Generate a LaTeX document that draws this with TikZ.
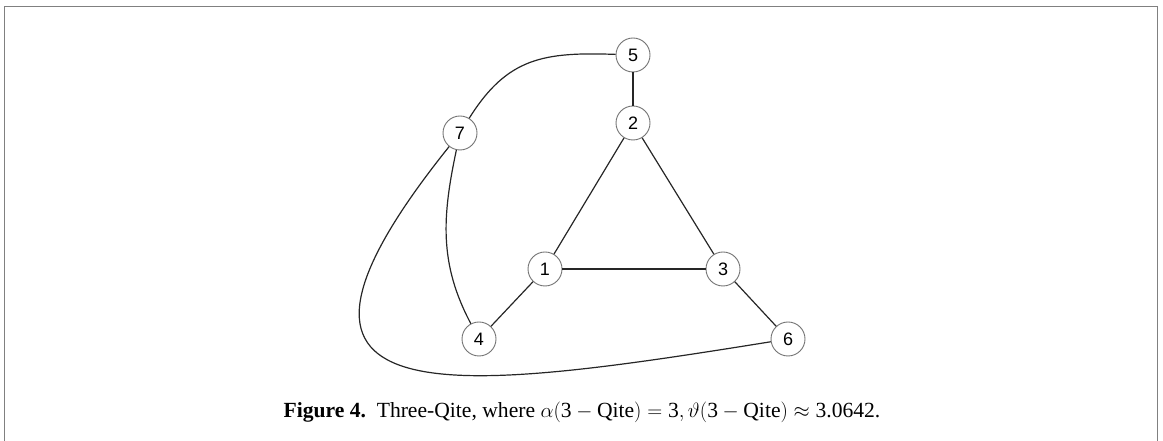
\documentclass[tikz,border=0pt]{standalone}
\usepackage{fontspec}
\setmainfont{Liberation Serif}
\newfontfamily\nodefont{Liberation Sans}
\begin{document}
\begin{tikzpicture}[x=1pt,y=1pt,
  vtx/.style={circle,draw=black!55,line width=0.9pt,fill=white,minimum size=34pt,inner sep=0pt,font=\nodefont\fontsize{18}{18}\selectfont},
  edge/.style={draw=black!85,line width=1.2pt},
  frameline/.style={draw=black!50,line width=1.3pt}]
\useasboundingbox (0,0) rectangle (1163,441);
\coordinate (fa) at (4.5,0);
\coordinate (fb) at (4.5,434.5);
\coordinate (fc) at (1157.5,434.5);
\coordinate (fd) at (1157.5,0);
\draw[frameline] (fa) -- (fb) -- (fc) -- (fd);
\node[vtx] (n5) at (633,386) {5};
\node[vtx] (n2) at (633,318) {2};
\node[vtx] (n7) at (460,308) {7};
\node[vtx] (n1) at (545,172) {1};
\node[vtx] (n3) at (723,172) {3};
\node[vtx] (n4) at (479,102) {4};
\node[vtx] (n6) at (788,102) {6};
\draw[edge] (n5) -- (n2);
\draw[edge] (n2) -- (n1);
\draw[edge] (n2) -- (n3);
\draw[edge] (n1) -- (n3);
\draw[edge] (n1) -- (n4);
\draw[edge] (n3) -- (n6);
\draw[edge] (n7) to[out=58,in=178,looseness=1.15] (n5);
\draw[edge] (n7) to[out=-102,in=118] (n4);
\draw[edge] (n7) .. controls (230,21) and (440,46) .. (n6);
\node[font=\fontsize{21.6}{26}\selectfont,anchor=base] (cap) at (582,23)
  {\textbf{Figure 4.}\ \ Three-Qite, where $\alpha(\mbox{3}-\mbox{Qite})=\mbox{3},\vartheta(\mbox{3}-\mbox{Qite})\approx\mbox{3.0642}$.};
\end{tikzpicture}
\end{document}
